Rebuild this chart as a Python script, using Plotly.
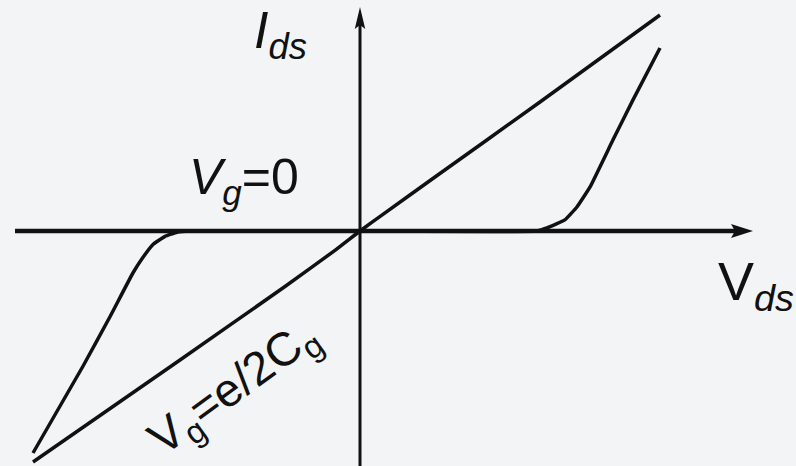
import plotly.graph_objects as go

# I-V characteristics of a single-electron transistor (arbitrary units)
# Vg = e/2Cg : ohmic, no Coulomb blockade
open_v = [-1.09, -0.60, -0.25, -0.08, 0.0, 0.08, 0.25, 0.60, 1.0]
open_i = [-0.77, -0.43, -0.185, -0.062, 0.0, 0.058, 0.18, 0.43, 0.72]

# Vg = 0 : Coulomb blockade plateau around Vds = 0
block_v = [-1.09, -0.923, -0.833, -0.757, -0.725, -0.69, -0.65, -0.61, -0.567,
           0.0, 0.59, 0.623, 0.683, 0.723, 0.767, 0.843, 0.91, 1.0]
block_i = [-0.74, -0.45, -0.285, -0.14, -0.09, -0.045, -0.018, -0.004, 0.0,
           0.0, 0.0, 0.01, 0.037, 0.08, 0.147, 0.303, 0.437, 0.61]

W, H = 796, 466
X0, Y0, S = 360, 231, 300.0   # origin in pixels, pixels per unit


def px2x(px):
    return (px - X0) / S


def py2y(py):
    return (Y0 - py) / S


BG = "#f3f4f6"
INK = "#111111"
FONT = "Liberation Sans, Arial, Helvetica, sans-serif"

fig = go.Figure()

fig.add_trace(go.Scatter(x=open_v, y=open_i, mode="lines",
                         line=dict(color=INK, width=3.5, shape="spline", smoothing=0.4),
                         hoverinfo="skip", showlegend=False))
fig.add_trace(go.Scatter(x=block_v, y=block_i, mode="lines",
                         line=dict(color=INK, width=3.5, shape="spline", smoothing=0.3),
                         hoverinfo="skip", showlegend=False))

shapes = []
# horizontal (Vds) axis
xa_l, xa_r = px2x(15), px2x(740)
shapes.append(dict(type="line", xref="x", yref="y", x0=xa_l, y0=0, x1=xa_r, y1=0,
                   line=dict(color=INK, width=4.5)))
# vertical (Ids) axis
ya_b, ya_t = py2y(470), py2y(20)
shapes.append(dict(type="line", xref="x", yref="y", x0=0, y0=ya_b, x1=0, y1=ya_t,
                   line=dict(color=INK, width=3)))

# arrowheads
L, hw, notch = 22 / S, 7 / S, 4 / S
tip = px2x(753)
shapes.append(dict(type="path", xref="x", yref="y", fillcolor=INK, line=dict(width=0),
                   path=f"M{tip},0 L{tip - L},{hw} L{tip - L + notch},0 L{tip - L},{-hw} Z"))
tipy = py2y(7)
shapes.append(dict(type="path", xref="x", yref="y", fillcolor=INK, line=dict(width=0),
                   path=f"M0,{tipy} L{-hw * 0.75},{tipy - L} L0,{tipy - L + notch} L{hw * 0.75},{tipy - L} Z"))

annotations = [
    dict(x=px2x(280), y=py2y(34), text="<i>I</i><sub><i>ds</i></sub>",
         font=dict(family=FONT, size=52, color=INK)),
    dict(x=px2x(244), y=py2y(180), text="<i>V</i><sub><i>g</i></sub>=0",
         font=dict(family=FONT, size=50, color=INK)),
    dict(x=px2x(756), y=py2y(285), text="V<sub><i>ds</i></sub>",
         font=dict(family=FONT, size=54, color=INK)),
    dict(x=px2x(234), y=py2y(389), text="V<sub>g</sub>=e/2C<sub>g</sub>",
         textangle=-36, font=dict(family=FONT, size=47, color=INK)),
]
for a in annotations:
    a.update(xref="x", yref="y", showarrow=False, xanchor="center", yanchor="middle")

fig.update_layout(
    width=W, height=H,
    margin=dict(l=0, r=0, t=0, b=0),
    paper_bgcolor=BG, plot_bgcolor=BG,
    xaxis=dict(range=[px2x(0), px2x(W)], visible=False, fixedrange=True),
    yaxis=dict(range=[py2y(H), py2y(0)], visible=False, fixedrange=True),
    shapes=shapes, annotations=annotations,
)

fig.write_html("out.html")
